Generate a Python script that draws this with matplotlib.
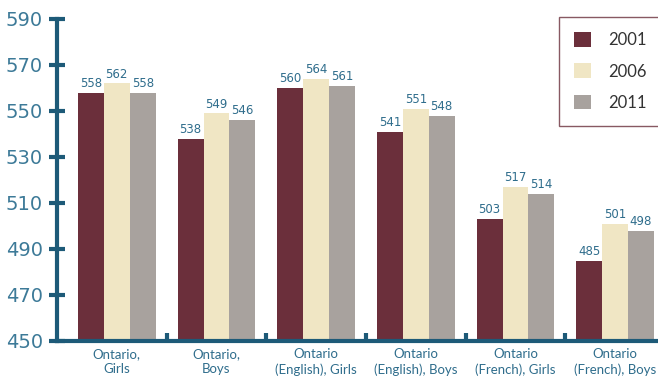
import numpy as np
import matplotlib
matplotlib.use("Agg")
import matplotlib.pyplot as plt

# category names and scores per year
groups = ["Ontario,\nGirls", "Ontario,\nBoys", "Ontario\n(English), Girls",
          "Ontario\n(English), Boys", "Ontario\n(French), Girls", "Ontario\n(French), Boys"]
years = ["2001", "2006", "2011"]
s2001 = [558, 538, 560, 541, 503, 485]
s2006 = [562, 549, 564, 551, 517, 501]
s2011 = [558, 546, 561, 548, 514, 498]
yticks = [450, 470, 490, 510, 530, 550, 570, 590]

colors = ["#6b2f3b", "#f0e6c4", "#a8a29e"]
axis_col = "#1d5a78"
text_col = "#2f6d8c"

plt.rcParams['font.family'] = ['Lato', 'DejaVu Sans']

fig = plt.figure(figsize=(6.58, 3.83), dpi=100)
ax = fig.add_axes([57/658, 42/383, 1 - 57/658, 322/383])

x = np.arange(len(groups))
w = 0.26
for i, (vals, c) in enumerate(zip([s2001, s2006, s2011], colors)):
    bars = ax.bar(x + (i - 1) * w, vals, w, color=c, label=years[i], zorder=2)
    for b, v in zip(bars, vals):
        ax.text(b.get_x() + b.get_width() / 2, v + 1.2, str(v), ha="center", va="bottom",
                fontsize=8.5, color=text_col, family="DejaVu Sans")

ax.set_ylim(450, 590)
ax.set_xlim(-0.6, 5.43)
ax.set_yticks(yticks)
ax.set_yticklabels([str(t) for t in yticks], fontsize=14, color="#3d7a98", family="DejaVu Sans")
ax.tick_params(axis="y", direction="inout", length=12, width=3, color=axis_col, pad=4)

ax.set_xticks(np.arange(0.5, 5.5, 1))
ax.set_xticklabels([])
ax.tick_params(axis="x", direction="in", length=6, width=3, color=axis_col)
for i, g in enumerate(groups):
    ax.text(x[i], 450 - 3.2, g, ha="center", va="top", fontsize=9.5, color=text_col,
            linespacing=1.3)

for s in ["top", "right"]:
    ax.spines[s].set_visible(False)
for s in ["left", "bottom"]:
    ax.spines[s].set_color(axis_col)
    ax.spines[s].set_linewidth(3)

leg = fig.legend(loc="upper right", bbox_to_anchor=(1.005, 0.955), fontsize=12,
                 frameon=True, fancybox=False, handlelength=1.0, handleheight=1.0,
                 labelspacing=0.9, borderpad=0.9, handletextpad=1.0, borderaxespad=0)
leg.get_frame().set_edgecolor("#6b2f3b")
leg.get_frame().set_linewidth(1)
for t in leg.get_texts():
    t.set_color("#333333")

fig.savefig("out.png", dpi=100)
